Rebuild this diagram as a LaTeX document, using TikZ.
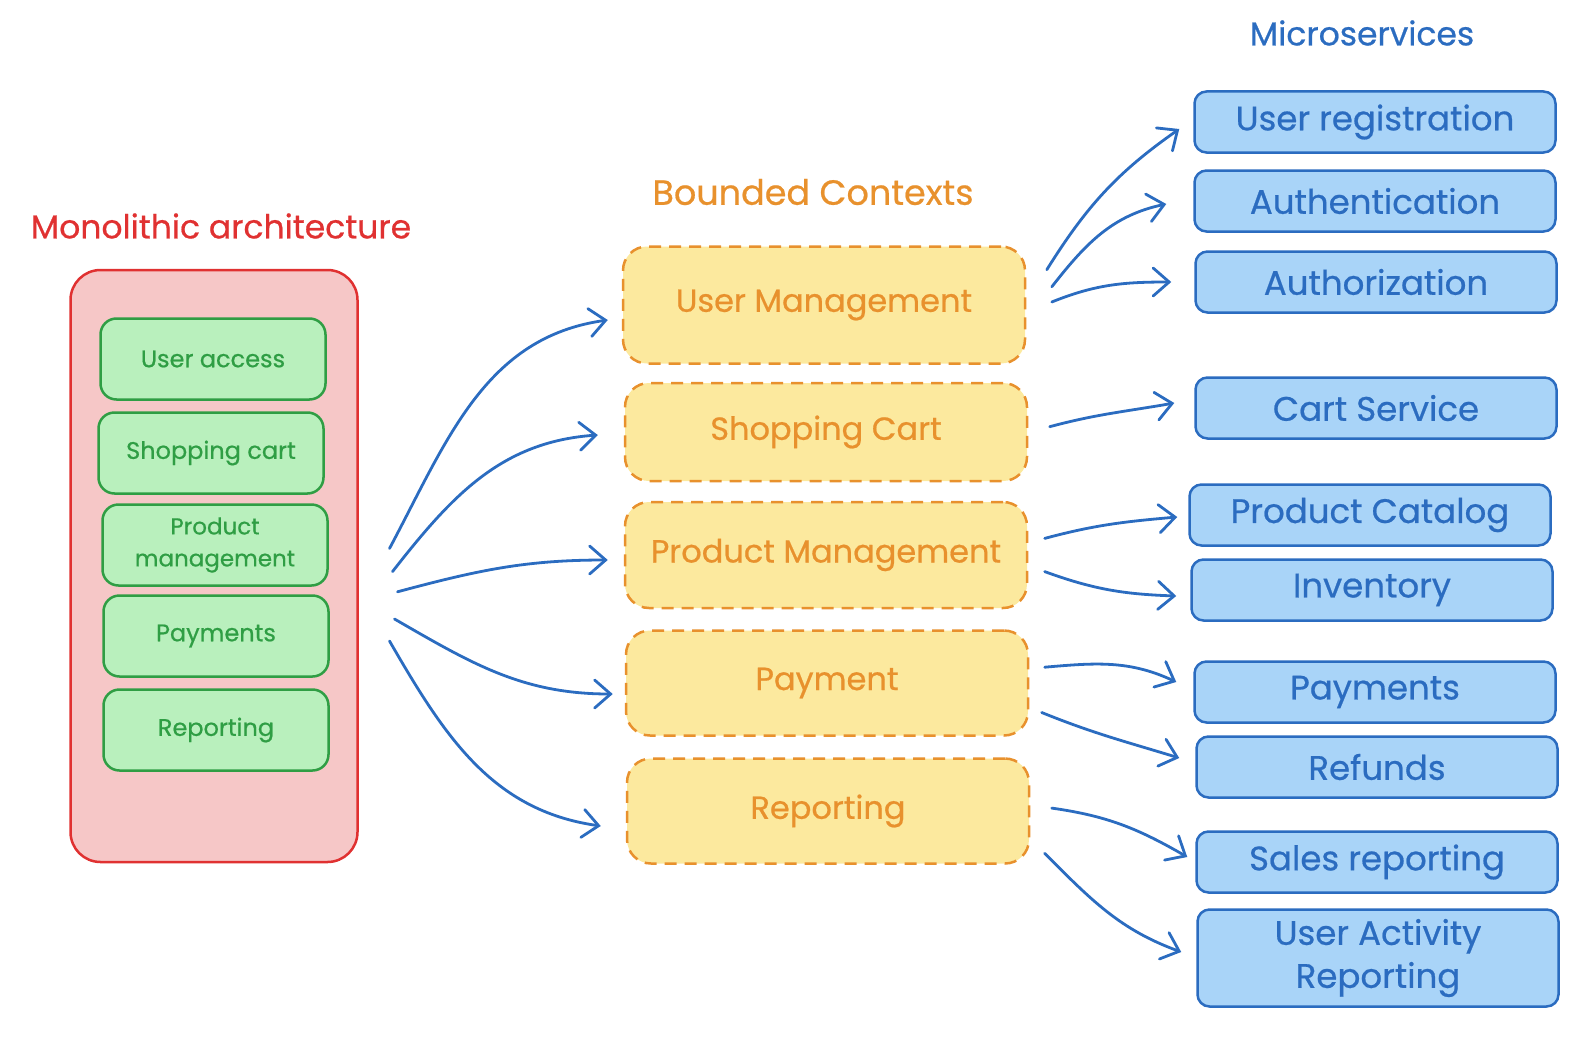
\documentclass[tikz,border=0pt]{standalone}
\usepackage{fontspec}
\setmainfont{Poppins}[FakeBold=0.6]
\usetikzlibrary{arrows.meta}
\definecolor{redS}{HTML}{E03131}
\definecolor{pinkF}{HTML}{F6C7C7}
\definecolor{greenS}{HTML}{2F9E44}
\definecolor{greenF}{HTML}{B9F0BD}
\definecolor{orangeS}{HTML}{E8912D}
\definecolor{yellowF}{HTML}{FCE99E}
\definecolor{blueS}{HTML}{2B6CC0}
\definecolor{blueF}{HTML}{A9D4F8}
\begin{document}
\begin{tikzpicture}[x=1pt,y=-1pt,
  mono/.style={draw=redS, fill=pinkF, line width=2.5pt, rounded corners=30pt, minimum width=287pt, minimum height=592pt, inner sep=0pt},
  gbox/.style={draw=greenS, fill=greenF, text=greenS, line width=2.5pt, rounded corners=16pt, minimum width=225pt, minimum height=81pt, inner sep=0pt, align=center, font=\fontsize{24}{30}\selectfont},
  ybox/.style={draw=orangeS, fill=yellowF, text=orangeS, line width=2.5pt, dash pattern=on 12pt off 8pt, rounded corners=24pt, minimum width=402pt, inner sep=0pt, align=center, font=\fontsize{32}{40}\selectfont},
  bbox/.style={draw=blueS, fill=blueF, text=blueS, line width=2.5pt, rounded corners=12pt, minimum width=361pt, minimum height=61pt, inner sep=0pt, align=center, font=\fontsize{34}{40}\selectfont},
  ttl/.style={inner sep=0pt, font=\fontsize{33}{38}\selectfont},
  arr/.style={draw=blueS, line width=2.8pt, line cap=round, -{Straight Barb[length=16pt,width=28pt,line cap=round]}}
]
\useasboundingbox (0,0) rectangle (1578,1038);

% titles
\node[ttl, text=redS] (tmono) at (221,226) {Monolithic architecture};
\node[ttl, text=orangeS, font=\fontsize{35}{40}\selectfont] (tbc) at (813,192) {Bounded Contexts};
\node[ttl, text=blueS] (tms) at (1362,33) {Microservices};

% monolith
\node[mono] (mono) at (214,566) {};
\node[gbox] (gua) at (213,359) {User access};
\node[gbox] (gsc) at (211,453) {Shopping cart};
\node[gbox, font=\fontsize{23}{32}\selectfont] (gpm) at (215,545) {Product\\management};
\node[gbox] (gpay) at (216,636) {Payments};
\node[gbox] (grep) at (216,730) {Reporting};

% bounded contexts
\node[ybox, minimum height=117pt] (um) at (824,305) {User Management};
\node[ybox, minimum height=98pt] (sc) at (826,432) {Shopping Cart};
\node[ybox, minimum height=106pt] (pm) at (826,555) {Product Management};
\node[ybox, minimum height=105pt] (pay) at (827,683) {Payment};
\node[ybox, minimum height=105pt] (rep) at (828,811) {Reporting};

% microservices
\node[bbox] (ur) at (1375,122) {User registration};
\node[bbox] (authn) at (1375,201) {Authentication};
\node[bbox] (authz) at (1376,282) {Authorization};
\node[bbox] (cart) at (1376,408) {Cart Service};
\node[bbox] (pcat) at (1370,515) {Product Catalog};
\node[bbox] (inv) at (1372,590) {Inventory};
\node[bbox] (mpay) at (1375,692) {Payments};
\node[bbox] (ref) at (1377,767) {Refunds};
\node[bbox] (sales) at (1377,862) {Sales reporting};
\node[bbox, minimum height=97pt, font=\fontsize{34}{43}\selectfont] (uar) at (1378,958) {User Activity\\Reporting};

% arrow tails
\coordinate (m1) at (389.5,548.5);
\coordinate (m2) at (392.5,571.6);
\coordinate (m3) at (397.5,591.8);
\coordinate (m4) at (394.5,619);
\coordinate (m5) at (389.5,641);
\coordinate (u1) at (1046.8,269.7);
\coordinate (u2) at (1051.8,286.8);
\coordinate (u3) at (1051.8,302);
\coordinate (s1) at (1049.7,426.7);
\coordinate (p1) at (1044.7,538.4);
\coordinate (p2) at (1044.7,571.6);
\coordinate (y1) at (1044.7,667.2);
\coordinate (y2) at (1041.7,712.5);
\coordinate (r1) at (1051.8,808.1);
\coordinate (r2) at (1044.7,853.4);

% monolith -> bounded contexts
\draw[arr] (m1) to[out=62,in=188] ([xshift=-14pt,yshift=-15pt]um.west);
\draw[arr] (m2) to[out=52,in=184] ([xshift=-26pt,yshift=-3pt]sc.west);
\draw[arr] (m3) to[out=15,in=180] ([xshift=-16pt,yshift=-5pt]pm.west);
\draw[arr] (m4) to[out=-30,in=180] ([xshift=-12pt,yshift=-11pt]pay.west);
\draw[arr] (m5) to[out=-60,in=172] ([xshift=-25pt,yshift=-15pt]rep.west);

% bounded contexts -> microservices
\draw[arr] (u1) to[out=58,in=215] ([xshift=-14pt,yshift=-7pt]ur.west);
\draw[arr] (u2) to[out=52,in=192] ([xshift=-27pt,yshift=-3pt]authn.west);
\draw[arr] (u3) to[out=22,in=180] ([xshift=-23pt]authz.west);
\draw[arr] (s1) to[out=15,in=190] ([xshift=-20pt,yshift=5pt]cart.west);
\draw[arr] (p1) to[out=15,in=185] ([xshift=-11pt,yshift=-2pt]pcat.west);
\draw[arr] (p2) to[out=-20,in=178] ([xshift=-14pt,yshift=-6pt]inv.west);
\draw[arr] (y1) to[out=5,in=155] ([xshift=-17pt,yshift=10pt]mpay.west);
\draw[arr] (y2) to[out=-22,in=163] ([xshift=-16pt,yshift=9pt]ref.west);
\draw[arr] (r1) to[out=-8,in=150] ([xshift=-8pt,yshift=5pt]sales.west);
\draw[arr] (r2) to[out=-45,in=160] ([xshift=-15pt,yshift=6pt]uar.west);
\end{tikzpicture}
\end{document}
